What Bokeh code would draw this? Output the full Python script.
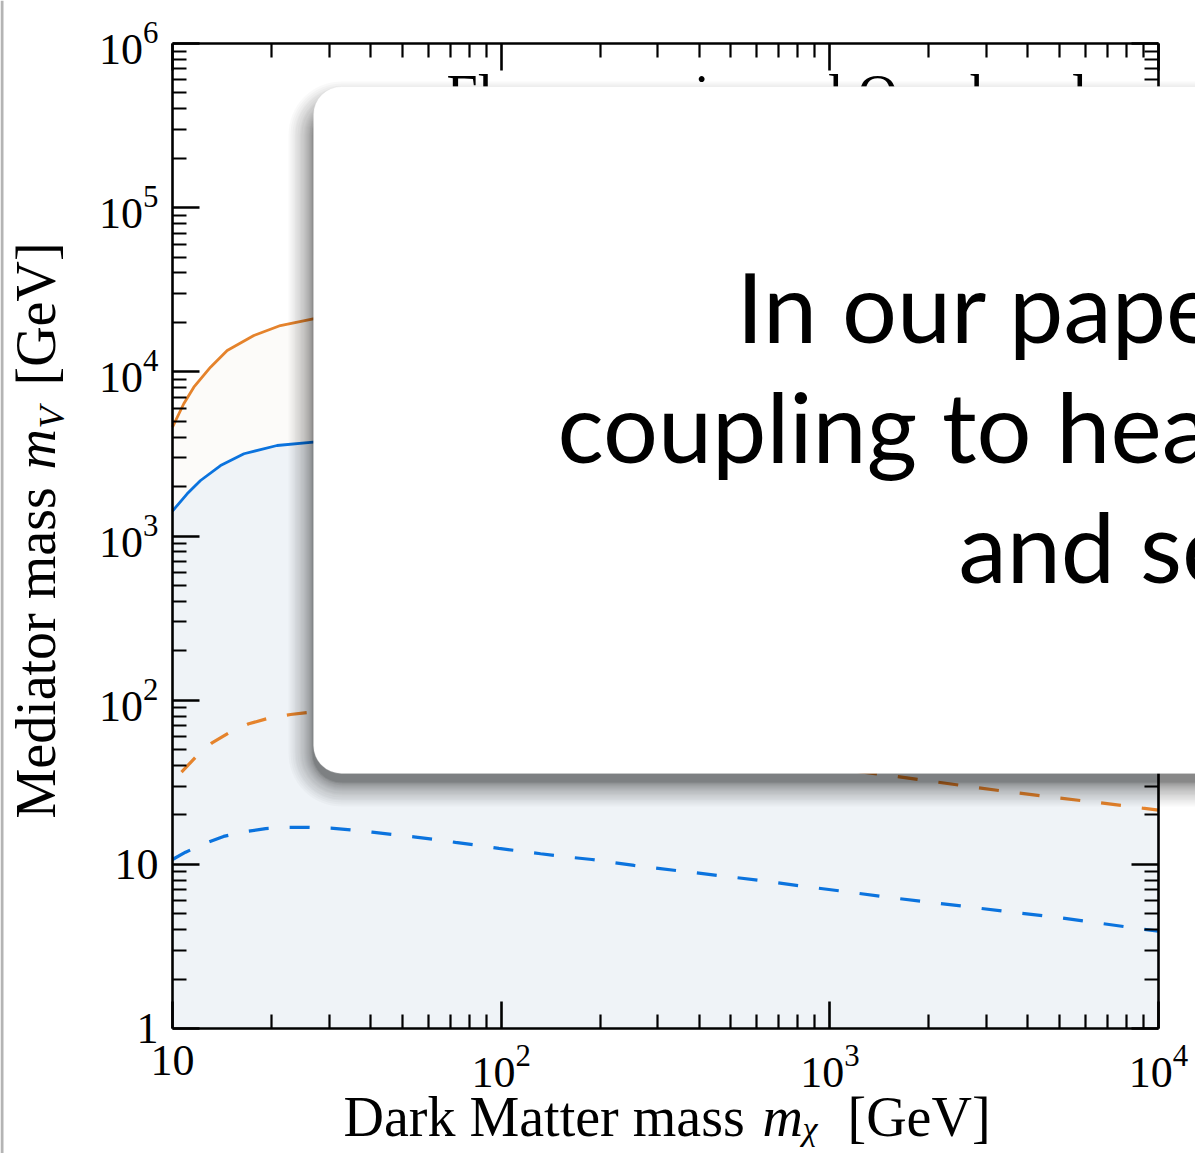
import math
from bokeh.plotting import figure
from bokeh.models import FixedTicker, LogTickFormatter, LogAxis, BoxAnnotation, Label
from bokeh.embed import file_html
from bokeh.resources import INLINE

# ---------------- data ----------------
mx_orange_solid = [10, 10.82, 11.61, 13.05, 14.67, 17.68, 21.3, 26.8, 40, 60, 100, 200, 500, 1000, 2000, 5000, 10000]
mv_orange_solid = [4600, 6390, 8060, 10670, 13490, 16640, 19140, 21040, 22800, 22500, 20500, 17500, 14000, 11800, 10000, 8000, 6800]

mx_blue_solid = [10, 11.08, 12.17, 14.0, 16.5, 20.8, 26.8, 40, 60, 100, 200, 500, 1000, 2000, 5000, 10000]
mv_blue_solid = [1420, 1807, 2178, 2687, 3169, 3558, 3726, 3900, 3850, 3600, 3150, 2600, 2200, 1900, 1550, 1350]

mx_orange_dash = [10.65, 11.75, 13.15, 14.84, 17.06, 19.6, 22.86, 26.3, 40, 60, 100, 200, 400, 800,
                  1517, 2050, 2741, 3684, 4947, 6650, 8940, 10000]
mv_orange_dash = [36.4, 44.9, 54.7, 63.2, 71.8, 77.6, 81.8, 84.5, 84, 76, 66, 56, 48, 41,
                  34.8, 32.0, 29.5, 27.3, 25.4, 23.7, 22.0, 21.4]

mx_blue_dash = [10, 10.96, 12.6, 14.3, 16.7, 19.2, 22.6, 25.7, 30.3, 34.8, 40.5, 46.6, 54.2, 62.3, 72.6,
                83.5, 98.4, 111.9, 131.8, 151.5, 188.9, 253.8, 341, 458, 616, 827, 1111, 1494, 2006,
                2698, 3625, 4864, 6502, 8790, 10000]
mv_blue_dash = [10.7, 11.86, 13.45, 14.8, 15.85, 16.5, 16.8, 16.8, 16.6, 16.2, 15.7, 15.2, 14.7, 14.2, 13.6,
                13.1, 12.5, 12.1, 11.6, 11.2, 10.7, 9.85, 9.17, 8.55, 7.97, 7.36, 6.83, 6.31, 5.88,
                5.48, 5.09, 4.77, 4.40, 4.05, 3.92]

x_limits = (10, 10000)
y_limits = (1, 1000000)
x_major_ticks = [10, 100, 1000, 10000]
x_minor_ticks = [m * 10 ** e for e in range(1, 4) for m in range(2, 10)]
y_major_ticks = [1, 10, 100, 1000, 10000, 100000, 1000000]
y_minor_ticks = [m * 10 ** e for e in range(0, 6) for m in range(2, 10)]

title_text = "Flavour-universal Quark-only"
box_lines = ["In our paper", "coupling to heavy", "and scalar"]

# ---------------- layout geometry (pixels) ----------------
W, H = 1195, 1153
FL, FR, FT, FB = 172, 1158, 43, 1028     # where the axes box sits on the canvas

dec_x = (FR - FL) / (math.log10(x_limits[1]) - math.log10(x_limits[0]))
dec_y = (FB - FT) / (math.log10(y_limits[1]) - math.log10(y_limits[0]))
x_start = 10 ** (math.log10(x_limits[0]) - FL / dec_x)
x_end = 10 ** (math.log10(x_limits[1]) + (W - FR) / dec_x)
y_start = 10 ** (math.log10(y_limits[0]) - (H - FB) / dec_y)
y_end = 10 ** (math.log10(y_limits[1]) + FT / dec_y)

p = figure(width=W, height=H, x_axis_type="log", y_axis_type="log",
           x_range=(x_start, x_end), y_range=(y_start, y_end),
           x_axis_location=None, y_axis_location=None,
           output_backend="svg", toolbar_location=None,
           min_border=0, min_border_left=0, min_border_right=0,
           min_border_top=0, min_border_bottom=0)
p.grid.visible = False
p.outline_line_color = None
p.background_fill_color = "white"
p.border_fill_color = "white"

ORANGE = "#e5832c"
BLUE = "#0b73de"

p.varea(x=mx_orange_solid, y1=[1] * len(mx_orange_solid), y2=mv_orange_solid, fill_color="#fcfbf9")
p.varea(x=mx_blue_solid, y1=[1] * len(mx_blue_solid), y2=mv_blue_solid, fill_color="#eff3f7")
p.line(mx_orange_solid, mv_orange_solid, line_color=ORANGE, line_width=2.8)
p.line(mx_blue_solid, mv_blue_solid, line_color=BLUE, line_width=2.8)
p.line(mx_orange_dash, mv_orange_dash, line_color=ORANGE, line_width=3.2, line_dash="20 21")
p.line(mx_blue_dash, mv_blue_dash, line_color=BLUE, line_width=3.2, line_dash="20 21")

xt = FixedTicker(ticks=x_major_ticks, minor_ticks=x_minor_ticks)
yt = FixedTicker(ticks=y_major_ticks, minor_ticks=y_minor_ticks)

bottom = LogAxis(fixed_location=y_limits[0], bounds=x_limits)
top = LogAxis(fixed_location=y_limits[1], bounds=x_limits)
left = LogAxis(fixed_location=x_limits[0], bounds=y_limits)
right = LogAxis(fixed_location=x_limits[1], bounds=y_limits)
p.add_layout(bottom, "below")
p.add_layout(top, "above")
p.add_layout(left, "left")
p.add_layout(right, "right")

for ax, t in [(bottom, xt), (top, xt), (left, yt), (right, yt)]:
    ax.ticker = t
    ax.formatter = LogTickFormatter(min_exponent=2)
    ax.axis_line_width = 2.6
    ax.axis_line_color = "black"
    ax.major_tick_line_width = 2.6
    ax.minor_tick_line_width = 2.2
    ax.major_tick_line_color = "black"
    ax.minor_tick_line_color = "black"
    ax.major_tick_in = 27
    ax.major_tick_out = 0
    ax.minor_tick_in = 14
    ax.minor_tick_out = 0
    ax.major_label_text_font = "Liberation Serif"
    ax.major_label_text_font_size = "44px"
    ax.major_label_text_color = "black"

for ax in (top, right):
    ax.major_label_text_font_size = "1px"
    ax.major_label_text_alpha = 0
    ax.major_label_standoff = 0

bottom.major_label_standoff = 17
left.major_label_standoff = 14

# Bokeh places a Label's anchor about 0.41 em above the alphabetic baseline
BASE = 0.41


def sx(X):
    return X


def sy(Y):
    return H - Y


# ---------------- axis titles ----------------
SERIF = "Liberation Serif"
LBL = 56
SUB = 36


def lab(text, X, Y, size=LBL, style="normal", rotated=False, level="annotation", font=SERIF):
    if rotated:
        ax_, ay_ = X - BASE * size, Y
    else:
        ax_, ay_ = X, Y - BASE * size
    l = Label(x=sx(ax_), y=sy(ay_), x_units="screen", y_units="screen", text=text,
              text_font=font, text_font_size=f"{size}px", text_font_style=style,
              text_align="left", text_baseline="alphabetic",
              angle=(math.pi / 2 if rotated else 0.0),
              text_color="black", level=level)
    p.add_layout(l)
    return l


# x axis title:  Dark Matter mass m_chi [GeV]
lab("Dark Matter mass", 343, 1139)
lab("m", 762, 1139, style="italic")
lab("\u03c7", 802, 1142, size=SUB - 2, style="italic")
lab("[GeV]", 847, 1139)

# y axis title (rotated):  Mediator mass m_V [GeV]
lab("Mediator mass", 58, 818, rotated=True)
lab("m", 58, 469, style="italic", rotated=True)
lab("V", 66, 428, size=SUB, style="italic", rotated=True)
lab("[GeV]", 58, 385, rotated=True)

# title inside the plot (mostly hidden behind the overlay card)
lab(title_text, 446, 117, size=56)

# ---------------- overlay card with shadow ----------------
BL, BT, BR, BB = 313, 86, 1260, 773
N = 24
for k in range(1, N + 1):
    s = int(round(1 + 24 * (k / N) ** 2))
    p.add_layout(BoxAnnotation(left=sx(BL - s), right=sx(BR + s), top=sy(BT + 20 - s), bottom=sy(BB + 8 + s),
                               left_units="screen", right_units="screen", top_units="screen", bottom_units="screen",
                               fill_color="black", fill_alpha=0.025, line_color=None,
                               border_radius=28 + s, level="overlay"))
p.add_layout(BoxAnnotation(left=sx(BL), right=sx(BR), top=sy(BT), bottom=sy(BB),
                           left_units="screen", right_units="screen", top_units="screen", bottom_units="screen",
                           fill_color="white", fill_alpha=1.0, line_color="#d9d9d9", line_width=1,
                           border_radius=28, level="overlay"))

for txt, X, Y in zip(box_lines, [736, 557, 958], [345, 465, 585]):
    lab(txt, X, Y, size=97, level="overlay", font="Lato")

# slide edge at the far left
p.add_layout(BoxAnnotation(left=sx(0), right=sx(3), top=sy(0), bottom=sy(H),
                           left_units="screen", right_units="screen", top_units="screen", bottom_units="screen",
                           fill_color="#b4b4b4", fill_alpha=1.0, line_color=None, level="overlay"))

open("out.html", "w").write(file_html(p, INLINE))
